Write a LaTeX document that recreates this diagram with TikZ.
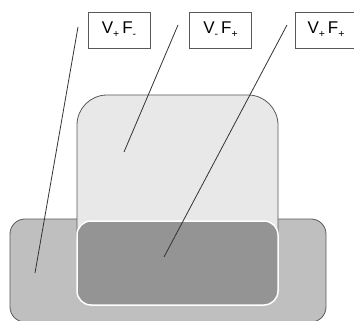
\documentclass[tikz,border=0pt]{standalone}
\usepackage{fontspec}
\setmainfont{Liberation Sans}
\newcommand{\lo}[1]{\raisebox{-0.45ex}{\fontsize{10.5}{10.5}\selectfont #1}}
\newcommand{\gap}{\hspace{3pt}}
\begin{document}
\begin{tikzpicture}[x=1pt,y=-1pt,
  region/.style={draw=black!65, line width=0.8pt},
  tag/.style={draw=black!65, fill=white, line width=0.8pt, inner sep=0pt,
    minimum width=62pt, minimum height=36pt, font=\fontsize{17}{19}\selectfont},
  leader/.style={draw=black!80, line width=0.8pt}]
\useasboundingbox (0,0) rectangle (354,321);
% outer base slab
\draw[region, fill=black!25, rounded corners=15pt] (10,219) rectangle (326,322);
% raised block
\draw[region, fill=black!9, rounded corners=30pt] (77,95) rectangle (278,265);
% overlap region
\draw[draw=white, line width=1.5pt, fill=black!42, rounded corners=14pt] (77,221) rectangle (278,305);
% leader lines
\coordinate (a1) at (78,27);  \coordinate (a2) at (35,273);
\coordinate (b1) at (178,25); \coordinate (b2) at (124,152);
\coordinate (c1) at (287,25); \coordinate (c2) at (164,257);
\draw[leader] (a1) -- (a2);
\draw[leader] (b1) -- (b2);
\draw[leader] (c1) -- (c2);
% labels
\node[tag] (t1) at (119,30) {V\lo{+}\gap F\lo{-}};
\node[tag] (t2) at (220.5,30) {V\lo{-}\gap F\lo{+}};
\node[tag] (t3) at (326,30) {V\lo{+}\gap F\lo{+}};
\end{tikzpicture}
\end{document}
